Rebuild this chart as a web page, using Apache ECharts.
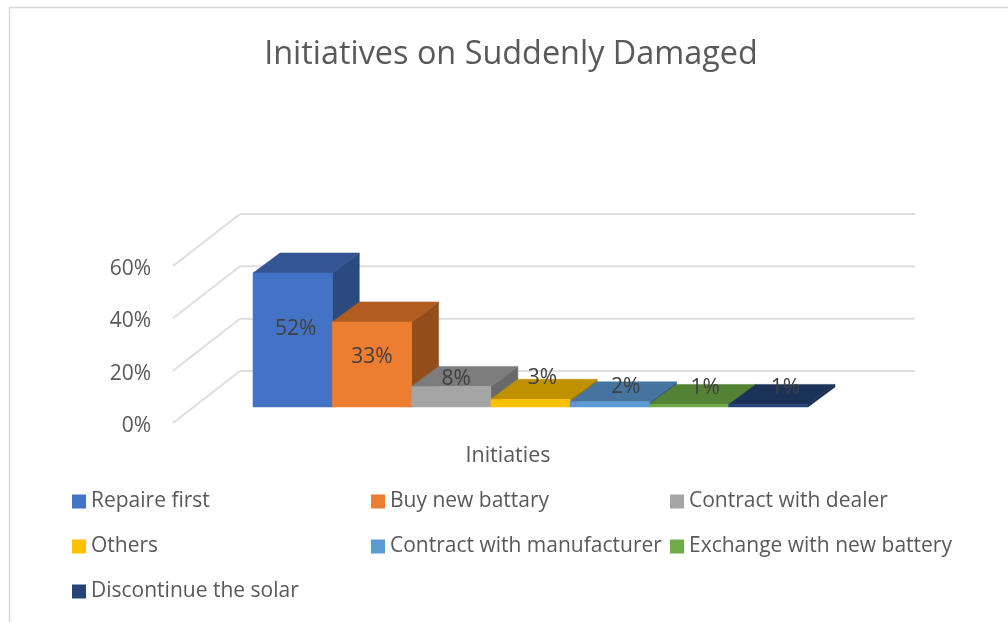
<!DOCTYPE html>
<html>
<head>
<meta charset="utf-8">
<style>html,body{margin:0;padding:0;background:#fff}#c{width:1008px;height:622px}</style>
<script src="https://cdn.jsdelivr.net/npm/echarts@6/dist/echarts.min.js"></script>
</head>
<body>
<div id="c"></div>
<script>
const categories = ['Initiaties'];
const seriesNames = ['Repaire first','Buy new battary','Contract with dealer','Others','Contract with manufacturer','Exchange with new battery','Discontinue the solar'];
const seriesValues = [52,33,8,3,2,1,1];
const axisTicks = [0,20,40,60];

const frontColors = ['#4472C4','#ED7D31','#A5A5A5','#FFC000','#5B9BD5','#70AD47','#264478'];
const topColors   = ['#335593','#B15D22','#7C7C7C','#BF9000','#44749F','#548235','#1C3359'];
const sideColors  = ['#2A4A80','#944E1B','#696969','#A07900','#3A6186','#476E2D','#182C4D'];
const labelNudge  = [[3,-11],[0,-7],[5,-18],[12,-25],[16,-17],[16,-18],[17,-18]];

const FONT = '"Open Sans", sans-serif';
const WALL = [67,-52], BAR_SHIFT = [20,-16], BAR_DEPTH = [27,-20];
const BAR_SHARE = 555/675/7, BAR_SCALE = 0.985;

function renderWall(params, api){
  const p = api.coord([0, api.value(1)]);
  const cs = params.coordSys;
  const st = {stroke:'#DEDEDE', lineWidth:2, fill:'none'};
  return {type:'group', children:[
    {type:'line', shape:{x1:cs.x, y1:p[1], x2:cs.x+WALL[0], y2:p[1]+WALL[1]}, style:st, silent:true},
    {type:'line', shape:{x1:cs.x+WALL[0], y1:p[1]+WALL[1], x2:cs.x+cs.width+WALL[0], y2:p[1]+WALL[1]}, style:st, silent:true}
  ]};
}

function makeBarRenderer(i){
  return function(params, api){
    const v = api.value(1);
    const base = api.coord([0,0]);
    const top = api.coord([0,v]);
    const w = api.size([1,0])[0]*BAR_SHARE;
    const x0 = base[0]+(i-3.5)*w+BAR_SHIFT[0];
    const x1 = x0+w;
    const yb = base[1]+BAR_SHIFT[1];
    const yt = yb-(base[1]-top[1])*BAR_SCALE;
    const dx = BAR_DEPTH[0], dy = BAR_DEPTH[1];
    const face = (pts,c)=>({type:'polygon',shape:{points:pts},style:{fill:c,stroke:c,lineWidth:0.5}});
    return {type:'group', children:[
      face([[x1,yb],[x1+dx,yb+dy],[x1+dx,yt+dy],[x1,yt]], sideColors[i]),
      face([[x0,yt],[x1,yt],[x1+dx,yt+dy],[x0+dx,yt+dy]], topColors[i]),
      face([[x0,yb],[x1,yb],[x1,yt],[x0,yt]], frontColors[i]),
      {type:'text', z2:100, silent:true, style:{
        text:v+'%', x:(x0+x1)/2+labelNudge[i][0], y:(yb+yt)/2+labelNudge[i][1],
        fill:'#404040', font:'21px '+FONT, align:'center', verticalAlign:'middle'}}
    ]};
  };
}

const series = [{
  type:'custom', name:'wall', silent:true, clip:false,
  data:axisTicks.map(t=>[0,t]), encode:{x:0,y:1}, renderItem:renderWall
}].concat(seriesNames.map((n,i)=>({
  type:'custom', name:n, clip:false,
  itemStyle:{color:frontColors[i]},
  data:[[0,seriesValues[i]]], encode:{x:0,y:1},
  renderItem:makeBarRenderer(i)
})));

const legendBase = {orient:'vertical', icon:'rect', itemWidth:14, itemHeight:14, itemGap:24, padding:0, selectedMode:false, top:491,
  textStyle:{color:'#595959', fontFamily:FONT, fontSize:21, lineHeight:21}};
const cols = [[0,3,6],[1,4],[2,5]];
const colLeft = [72,371,670];

const chart = echarts.init(document.getElementById('c'), null, {renderer:'canvas'});
chart.setOption({
  animation:false,
  backgroundColor:'#fff',
  title:{text:'Initiatives on Suddenly Damaged', left:506, top:34, textAlign:'center',
    textStyle:{color:'#595959', fontFamily:FONT, fontSize:32.4, fontWeight:'normal'}},
  legend:cols.map((c,k)=>Object.assign({}, legendBase, {left:colLeft[k], data:c.map(j=>seriesNames[j])})),
  grid:{left:173, right:160, top:266, bottom:199},
  xAxis:{type:'category', data:categories, axisLine:{show:false}, axisTick:{show:false}, splitLine:{show:false},
    axisLabel:{color:'#595959', fontFamily:FONT, fontSize:21.5, margin:22, padding:[0,5,0,0]}},
  yAxis:{type:'value', min:0, max:60, interval:20, axisLine:{show:false}, axisTick:{show:false}, splitLine:{show:false},
    axisLabel:{formatter:'{a|{value}%}', margin:22,
      rich:{a:{color:'#595959', fontFamily:FONT, fontSize:21, padding:[6,0,0,0]}}}},
  graphic:[{type:'polyline', silent:true, shape:{points:[[9.5,622],[9.5,7.5],[1008,7.5]]}, style:{stroke:'#D9D9D9', lineWidth:1.5, fill:'none'}}],
  series:series
});
</script>
</body>
</html>
